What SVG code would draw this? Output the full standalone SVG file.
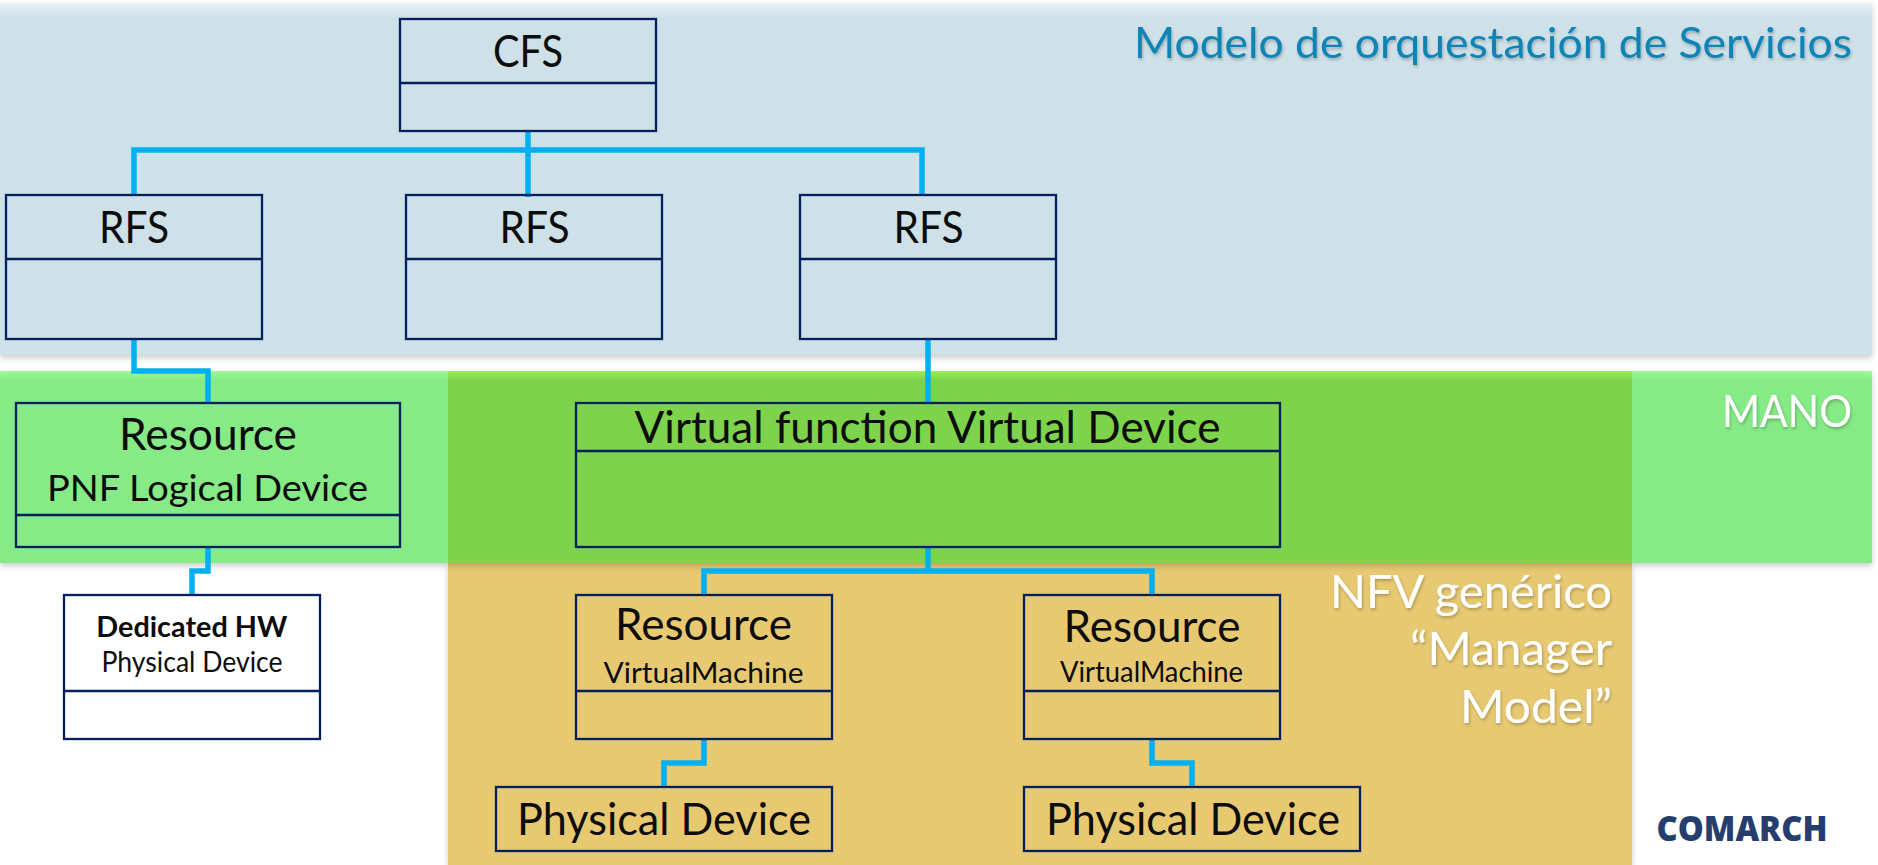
<svg xmlns="http://www.w3.org/2000/svg" width="1878" height="865" viewBox="0 0 1878 865">
<style>
.box{fill:none;stroke:#002060;stroke-width:2.3}
.wbox{fill:#fff;stroke:#002060;stroke-width:2.3}
.con{fill:none;stroke:#00b0f0;stroke-width:5.5;stroke-linejoin:miter}
text{font-family:"Lato","Liberation Sans",sans-serif;fill:#0d0d0d;text-anchor:middle}
.t{font-size:44px}
.m{font-size:37px}
.s{font-size:28px}
.b{font-size:28px;font-weight:700}
.lbl{text-anchor:end;fill:#fff;filter:url(#ts)}
</style>
<defs>
<filter id="sh" x="-2%" y="-5%" width="104%" height="112%"><feDropShadow dx="0" dy="3" stdDeviation="3" flood-color="#000" flood-opacity="0.2"/></filter>
<filter id="ts" x="-5%" y="-10%" width="110%" height="125%"><feDropShadow dx="1" dy="2" stdDeviation="1.5" flood-color="#000" flood-opacity="0.25"/></filter>
<linearGradient id="gg" x1="0" y1="0" x2="0" y2="1"><stop offset="0" stop-color="#9cfb8f"/><stop offset="0.05" stop-color="#86ea86"/></linearGradient>
<linearGradient id="gd" x1="0" y1="0" x2="0" y2="1"><stop offset="0" stop-color="#9ceb55"/><stop offset="0.05" stop-color="#7dd34b"/></linearGradient>
<linearGradient id="gb" x1="0" y1="0" x2="0" y2="1"><stop offset="0" stop-color="#e6f3f7"/><stop offset="0.04" stop-color="#cee0e8"/></linearGradient>
</defs>
<g id="bands">
<rect id="band-orange" x="448" y="563" width="1184" height="302" fill="#e7c972" filter="url(#sh)"/>
<rect id="band-blue" x="0" y="3" width="1872" height="352" fill="url(#gb)" filter="url(#sh)"/>
<rect id="band-green" x="0" y="371" width="1872" height="192" fill="url(#gg)" filter="url(#sh)"/>
<rect id="band-overlap" x="448" y="371" width="1184" height="192" fill="url(#gd)"/>
<text class="lbl" x="1852" y="58" font-size="42" textLength="718" lengthAdjust="spacingAndGlyphs" style="fill:#0b84b5">Modelo de orquestación de Servicios</text>
<text class="lbl" x="1852" y="427" font-size="44" textLength="130" lengthAdjust="spacingAndGlyphs">MANO</text>
<text class="lbl" x="1612" y="608" font-size="46" textLength="282" lengthAdjust="spacingAndGlyphs">NFV genérico</text>
<text class="lbl" x="1612" y="665" font-size="46" textLength="202" lengthAdjust="spacingAndGlyphs">“Manager</text>
<text class="lbl" x="1612" y="723" font-size="46" textLength="152" lengthAdjust="spacingAndGlyphs">Model”</text>
</g>
<g id="connectors">
<path class="con" d="M134 195V150H922V195"/>
<path class="con" d="M528 131V197"/>
<path class="con" d="M134 339V371H208V403"/>
<path class="con" d="M928 339V403"/>
<path class="con" d="M208 547V571H192V595"/>
<path class="con" d="M928 547V571"/>
<path class="con" d="M704 595V571H1152V595"/>
<path class="con" d="M704 739V763H664V787"/>
<path class="con" d="M1152 739V763H1192V787"/>
</g>
<g id="cfs"><rect class="box" x="400" y="19" width="256" height="112"/><path class="box" d="M400 83H656"/><text class="t" x="528" y="67" textLength="70" lengthAdjust="spacingAndGlyphs">CFS</text></g>
<g id="rfs1"><rect class="box" x="6" y="195" width="256" height="144"/><path class="box" d="M6 259H262"/><text class="t" x="134" y="243" textLength="70" lengthAdjust="spacingAndGlyphs">RFS</text></g>
<g id="rfs2"><rect class="box" x="406" y="195" width="256" height="144"/><path class="box" d="M406 259H662"/><text class="t" x="534.5" y="243" textLength="70" lengthAdjust="spacingAndGlyphs">RFS</text></g>
<g id="rfs3"><rect class="box" x="800" y="195" width="256" height="144"/><path class="box" d="M800 259H1056"/><text class="t" x="928.5" y="243" textLength="70" lengthAdjust="spacingAndGlyphs">RFS</text></g>
<g id="pnf"><rect class="box" x="16" y="403" width="384" height="144"/><path class="box" d="M16 515H400"/><text class="t" x="208" y="450" textLength="178" lengthAdjust="spacingAndGlyphs">Resource</text><text class="m" x="207.5" y="501" textLength="321" lengthAdjust="spacingAndGlyphs">PNF Logical Device</text></g>
<g id="vf"><rect class="box" x="576" y="403" width="704" height="144"/><path class="box" d="M576 451H1280"/><text class="t" x="927.5" y="443" textLength="586" lengthAdjust="spacingAndGlyphs">Virtual function Virtual Device</text></g>
<g id="hw"><rect class="wbox" x="64" y="595" width="256" height="144"/><path class="box" d="M64 691H320"/><text class="b" x="191.8" y="637" textLength="191" lengthAdjust="spacingAndGlyphs">Dedicated HW</text><text class="s" x="192" y="672" textLength="181" lengthAdjust="spacingAndGlyphs">Physical Device</text></g>
<g id="vm1"><rect class="box" x="576" y="595" width="256" height="144"/><path class="box" d="M576 691H832"/><text class="t" x="703.5" y="640" textLength="177" lengthAdjust="spacingAndGlyphs">Resource</text><text class="s" x="703.5" y="683" textLength="200" lengthAdjust="spacingAndGlyphs">VirtualMachine</text></g>
<g id="vm2"><rect class="box" x="1024" y="595" width="256" height="144"/><path class="box" d="M1024 691H1280"/><text class="t" x="1152" y="642" textLength="177" lengthAdjust="spacingAndGlyphs">Resource</text><text class="s" x="1151.5" y="682" textLength="183" lengthAdjust="spacingAndGlyphs">VirtualMachine</text></g>
<g id="pd1"><rect class="box" x="496" y="787" width="336" height="64"/><text class="t" x="664" y="835" textLength="294" lengthAdjust="spacingAndGlyphs">Physical Device</text></g>
<g id="pd2"><rect class="box" x="1024" y="787" width="336" height="64"/><text class="t" x="1193" y="835" textLength="294" lengthAdjust="spacingAndGlyphs">Physical Device</text></g>
<g id="logo"><text x="1742" y="841" font-size="36" font-weight="900" textLength="171" lengthAdjust="spacingAndGlyphs" style="fill:#253e6e;font-family:'Open Sans','Liberation Sans',sans-serif">COMARCH</text></g>
</svg>
